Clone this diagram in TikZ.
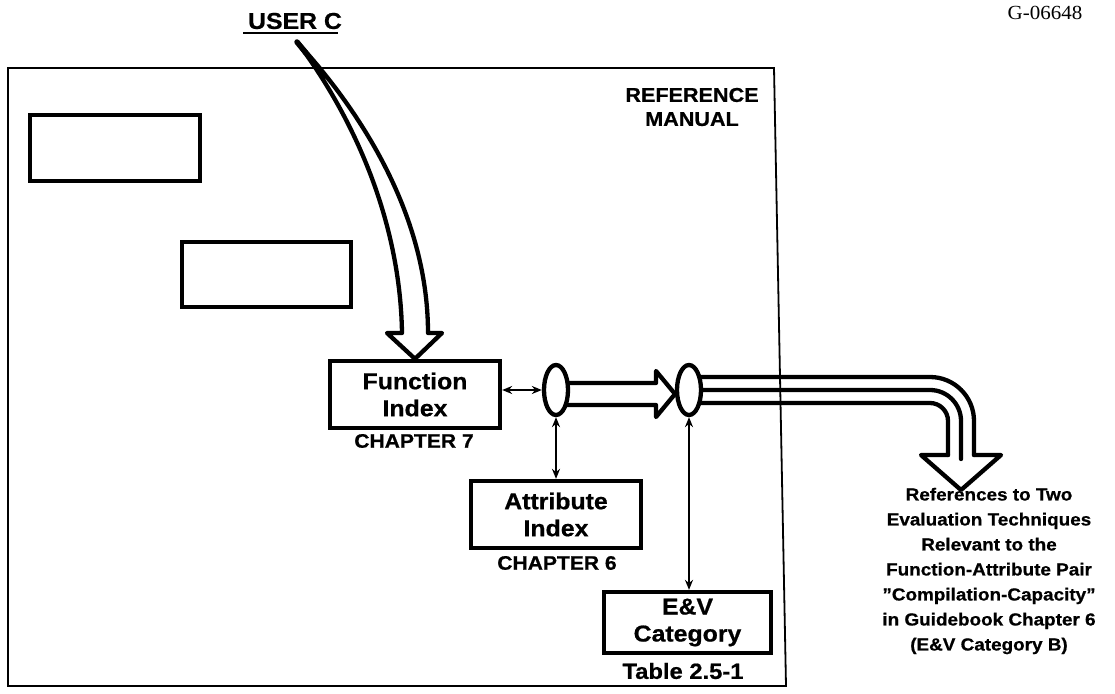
\documentclass[tikz,border=0pt]{standalone}
\usepackage{fontspec}
\setmainfont{Liberation Sans}[FakeStretch=1.08, BoldFeatures={FakeBold=0.7}]
\newfontfamily\gfont{Liberation Serif}[FakeStretch=1.05]
\usetikzlibrary{shapes.geometric,arrows.meta,calc}
\tikzset{
  heavy/.style={line width=4.3pt, line join=round, line cap=round},
  framestyle/.style={line width=1.8pt},
  emptybox/.style={draw, line width=4.3pt, inner sep=0pt},
  box/.style={draw, line width=4.3pt, align=center, inner sep=0pt,
     font=\fontsize{23}{27}\selectfont\bfseries},
  oval/.style={draw, ellipse, line width=4.3pt, minimum width=24pt,
     minimum height=50pt, inner sep=0pt},
  lab/.style={font=\fontsize{19.5}{22}\selectfont\bfseries, inner sep=0pt},
  dbl/.style={line width=2pt, {Stealth[length=10pt,width=8pt]}-{Stealth[length=10pt,width=8pt]}},
}
\begin{document}
\begin{tikzpicture}[x=1pt,y=-1pt]
\useasboundingbox (0,0) rectangle (1115,693);
% frame
\draw[framestyle] (8,68) -- (774,68) -- (786,686) -- (8,686) -- cycle;
\node[font=\fontsize{20}{24}\selectfont\bfseries, align=center, inner sep=0pt] (refman) at (692,107) {REFERENCE\\MANUAL};
% empty boxes
\node[emptybox, minimum width=170pt, minimum height=66pt] (b1) at (115,148) {};
\node[emptybox, minimum width=169pt, minimum height=65pt] (b2) at (266.5,274.5) {};
% main boxes
\node[box, minimum width=170pt, minimum height=67pt] (func) at (415,394.5) {Function\\Index};
\node[lab] (c7) at (414,441) {CHAPTER 7};
\node[box, minimum width=170pt, minimum height=67pt] (attr) at (556,514.5) {Attribute\\Index};
\node[lab] (c6) at (557,563) {CHAPTER 6};
\node[box, minimum width=167pt, minimum height=61pt] (ev) at (687.5,622.5) {E\&V\\Category};
\node[lab, font=\fontsize{22}{24}\selectfont\bfseries] (tab) at (683,671) {Table 2.5-1};
% ellipses
\node[oval] (e1) at (556,390) {};
\node[oval] (e2) at (689,390) {};
% user C
\node[font=\fontsize{23}{27}\selectfont\bfseries, inner sep=0pt] (user) at (295,21) {USER C};
\draw[line width=2.4pt] (243,33) -- (338,33);
\coordinate (us) at (297,42);
\draw[heavy] (us) .. controls (345,105) and (400,210) .. (402,333)
   -- (387,333) -- (func.north) -- (442,333) -- (428,333)
   .. controls (428,210) and (355,105) .. (us);
\draw[line width=5.5pt, line cap=round] (us) -- (306,53);
% thin double arrows
\draw[dbl] (func.east |- e1.west) -- (e1.west);
\draw[dbl] (e1.south) -- (e1.south |- attr.north);
\draw[dbl] (e2.south) -- (e2.south |- ev.north);
% hollow arrow between ellipses
\draw[heavy] ($(e1.center)+(12.5,-7)$) -- (656,383) -- (656,371)
   -- ($(e2.center)+(-14,4)$) -- (656,417) -- (656,405) -- ($(e1.center)+(10.5,15)$);
% pipe
\draw[heavy, rounded corners=44pt] ($(e2.center)+(11.5,-13)$) -- (974,377) -- (974,455);
\draw[heavy, rounded corners=31pt] (e2.east) -- (961,390) -- (961,459);
\draw[heavy, rounded corners=18pt] ($(e2.center)+(11.5,13)$) -- (948,403) -- (948,455);
\coordinate (tip) at (961,490);
\draw[heavy] (948,455) -- (921,455) -- (tip) -- (1001,455) -- (974,455);
% result text
\node[align=center, inner sep=0pt, font=\fontsize{17.5}{25}\selectfont\bfseries] (refs) at (989,571)
 {References to Two\\Evaluation Techniques\\Relevant to the\\Function-Attribute Pair\\''Compilation-Capacity''\\in Guidebook Chapter 6\\(E\&V Category B)};
\node[font=\gfont\fontsize{20}{22}\selectfont, inner sep=0pt] (gid) at (1045,13) {G-06648};
\end{tikzpicture}
\end{document}
